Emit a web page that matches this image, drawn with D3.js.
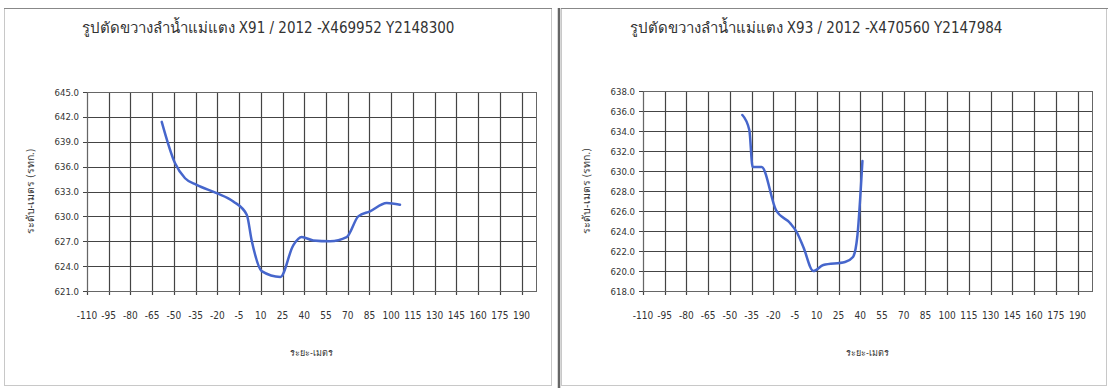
<!DOCTYPE html>
<html><head><meta charset="utf-8">
<script src="https://cdn.jsdelivr.net/npm/d3@7"></script>
<style>
body{margin:0;background:#fff;}
text{font-family:"Liberation Sans Narrow","DejaVu Sans Condensed","Liberation Sans",sans-serif;fill:#333;}
</style></head>
<body>
<svg id="c" width="1109" height="388"></svg>
<script>
// ---- data ----
const titleLeft = "รูปตัดขวางลำน้ำแม่แตง X91 / 2012 -X469952 Y2148300";
const titleRight = "รูปตัดขวางลำน้ำแม่แตง X93 / 2012 -X470560 Y2147984";
const yTitle = "ระดับ-เมตร (รทก.)";
const xTitle = "ระยะ-เมตร";
const xTicks = [-110,-95,-80,-65,-50,-35,-20,-5,10,25,40,55,70,85,100,115,130,145,160,175,190];
const xDomain = [-110, 200];
const leftYTicks = [621,624,627,630,633,636,639,642,645];
const rightYTicks = [618,620,622,624,626,628,630,632,634,636,638];
const leftDist = [-58.4,-49.2,-42.3,-34.3,-20.5,-9,0.3,3.7,10.6,23.5,32.4,38.2,46.2,57.8,69.3,77.3,85.4,96.9,106.1];
const leftElev = [641.4,636.4,634.6,633.8,632.8,631.8,630.2,627.1,623.4,622.7,626.5,627.5,627.1,627.0,627.5,630.0,630.6,631.6,631.4];
const rightDist = [-41.4,-36.6,-34.3,-28.1,-18.2,-8.5,-3.9,0.7,7.6,14.5,29.5,35,38,41.5];
const rightElev = [635.6,634.1,630.4,630.4,626.1,624.8,623.9,622.4,620.0,620.6,620.9,621.4,623.5,631.0];

const svg = d3.select("#c");

// panels
svg.append("rect").attr("x",4.5).attr("y",8.5).attr("width",547).attr("height",377)
  .attr("fill","#fff").attr("stroke","#c8c8c8");
svg.append("line").attr("x1",4).attr("x2",552).attr("y1",8.5).attr("y2",8.5).attr("stroke","#888");
svg.append("rect").attr("x",561.5).attr("y",8.5).attr("width",545).attr("height",377)
  .attr("fill","#fff").attr("stroke","#c8c8c8");
svg.append("line").attr("x1",561).attr("x2",1108).attr("y1",8.5).attr("y2",8.5).attr("stroke","#888");
svg.append("line").attr("x1",559).attr("x2",559).attr("y1",8).attr("y2",388).attr("stroke","#666").attr("stroke-width",2.5);

function chart(cfg){
  const g = svg.append("g");
  const x = d3.scaleLinear().domain(xDomain).range([cfg.left, cfg.left+449]);
  const y = d3.scaleLinear().domain(cfg.yDomain).range([cfg.bottom, cfg.top]);
  // grid
  g.selectAll(".vg").data(xTicks).join("line")
    .attr("x1",d=>Math.round(x(d))+0.5).attr("x2",d=>Math.round(x(d))+0.5)
    .attr("y1",cfg.top).attr("y2",cfg.bottom+4).attr("stroke","#444").attr("stroke-width",1.2);
  g.selectAll(".hg").data(cfg.yTicks).join("line")
    .attr("x1",cfg.left-4).attr("x2",cfg.left+449)
    .attr("y1",d=>Math.round(y(d))+0.5).attr("y2",d=>Math.round(y(d))+0.5)
    .attr("stroke","#444").attr("stroke-width",1.2);
  g.append("rect").attr("x",cfg.left+0.5).attr("y",cfg.top+0.5).attr("width",449).attr("height",cfg.bottom-cfg.top)
    .attr("fill","none").attr("stroke","#666");
  // tick labels
  g.selectAll(".xl").data(xTicks).join("text")
    .attr("x",d=>x(d)).attr("y",cfg.bottom+28).attr("text-anchor","middle")
    .attr("font-size",10).text(d=>d);
  g.selectAll(".yl").data(cfg.yTicks).join("text")
    .attr("x",cfg.left-8).attr("y",d=>y(d)+3.5).attr("text-anchor","end")
    .attr("font-size",9.5).text(d=>d3.format(".1f")(d));
  // titles
  g.append("text").attr("x",cfg.titleX).attr("y",33).attr("text-anchor","middle")
    .attr("font-size",15).attr("fill","#222").text(cfg.title);
  g.append("text").attr("transform",`translate(${cfg.left-53},${(cfg.top+cfg.bottom)/2}) rotate(-90)`)
    .attr("text-anchor","middle").attr("font-size",10.5).text(yTitle);
  g.append("text").attr("x",cfg.left+224.5).attr("y",356).attr("text-anchor","middle")
    .attr("font-size",9).text(xTitle);
  // line
  const line = d3.line().x(d=>x(d[0])).y(d=>y(d[1])).curve(d3.curveMonotoneX);
  g.append("path").datum(d3.zip(cfg.dist, cfg.elev)).attr("d",line)
    .attr("fill","none").attr("stroke","#4666cc").attr("stroke-width",2.5)
    .attr("stroke-linejoin","round").attr("stroke-linecap","round");
}

chart({left:87, top:92, bottom:291, yDomain:[621,645], yTicks:leftYTicks, title:titleLeft, titleX:268,
  dist:leftDist, elev:leftElev});
chart({left:643, top:91, bottom:291, yDomain:[618,638], yTicks:rightYTicks, title:titleRight, titleX:816,
  dist:rightDist, elev:rightElev});
</script>
</body></html>
